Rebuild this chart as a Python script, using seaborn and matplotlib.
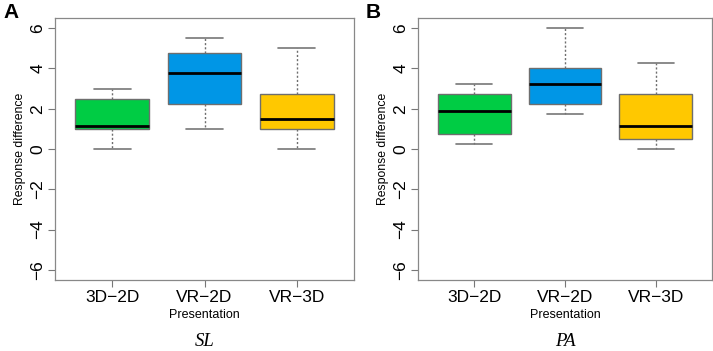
import pandas as pd
import matplotlib
matplotlib.use('agg')
import matplotlib.pyplot as plt
import seaborn as sns

# five-number summaries (min, q1, median, q3, max)
presentations = ["3D\u22122D", "VR\u22122D", "VR\u22123D"]
sl_3d2d = [0.0, 1.0, 1.13, 2.5, 3.0]
sl_vr2d = [1.0, 2.25, 3.75, 4.75, 5.5]
sl_vr3d = [0.0, 1.0, 1.5, 2.75, 5.0]
pa_3d2d = [0.25, 0.75, 1.88, 2.75, 3.25]
pa_vr2d = [1.75, 2.25, 3.25, 4.0, 6.0]
pa_vr3d = [0.0, 0.5, 1.12, 2.75, 4.25]
box_colors = ["#00cc44", "#0096e6", "#ffc800"]
y_ticks = [-6, -4, -2, 0, 2, 4, 6]

panels = [
    ("A", "SL", [sl_3d2d, sl_vr2d, sl_vr3d]),
    ("B", "PA", [pa_3d2d, pa_vr2d, pa_vr3d]),
]

sns.set_style("white")
plt.rcParams['font.family'] = ['Liberation Sans', 'DejaVu Sans']
plt.rcParams['text.color'] = 'black'
plt.rcParams['axes.labelcolor'] = 'black'
plt.rcParams['xtick.labelcolor'] = 'black'
plt.rcParams['ytick.labelcolor'] = 'black'

fig = plt.figure(figsize=(7.13, 3.51), dpi=100)
W, H = 713, 351
lefts = [55, 418]
rights = [354, 712]
top, bottom = 18, 280

for i, (letter, caption, groups) in enumerate(panels):
    ax = fig.add_axes([lefts[i] / W, 1 - bottom / H, (rights[i] - lefts[i]) / W, (bottom - top) / H])
    rows = []
    for name, vals in zip(presentations, groups):
        for v in vals:
            rows.append({"Presentation": name, "diff": v})
    df = pd.DataFrame(rows)
    sns.boxplot(data=df, x="Presentation", y="diff", hue="Presentation", palette=box_colors,
                order=presentations, hue_order=presentations, legend=False, saturation=1,
                width=0.8, whis=1.5, linecolor="#6e6e6e", linewidth=1.0, ax=ax,
                medianprops=dict(color="black", linewidth=2.0),
                whiskerprops=dict(linestyle=(0, (1.5, 1.5)), color="#6e6e6e", linewidth=1.0),
                capprops=dict(color="#777777", linewidth=1.2))
    ax.set_xlim(-0.62, 2.62)
    ax.set_ylim(-6.5, 6.5)
    ax.set_yticks(y_ticks)
    ax.set_yticklabels([str(t).replace("-", "\u2212") for t in y_ticks], rotation=90, va="center", fontsize=12.5)
    ax.tick_params(axis="x", labelsize=12.5)
    ax.tick_params(axis="both", direction="out", length=5, width=0.8, color="#777777",
                   bottom=True, left=True, pad=2)
    for s in ax.spines.values():
        s.set_color("#888888")
        s.set_linewidth(0.9)
    ax.set_xlabel("Presentation", fontsize=9, labelpad=3)
    ax.set_ylabel("Response difference", fontsize=8.8, labelpad=3)
    cx = (lefts[i] + rights[i]) / 2 / W
    fig.text(cx, 1 - 342 / H, caption, family="Liberation Serif", style="italic",
             fontsize=13.5, ha="center", va="center")
    fig.text((lefts[i] - 52) / W, 1 - 12 / H, letter, fontsize=15, fontweight="bold",
             ha="left", va="center")

fig.savefig("out.png", dpi=100)
